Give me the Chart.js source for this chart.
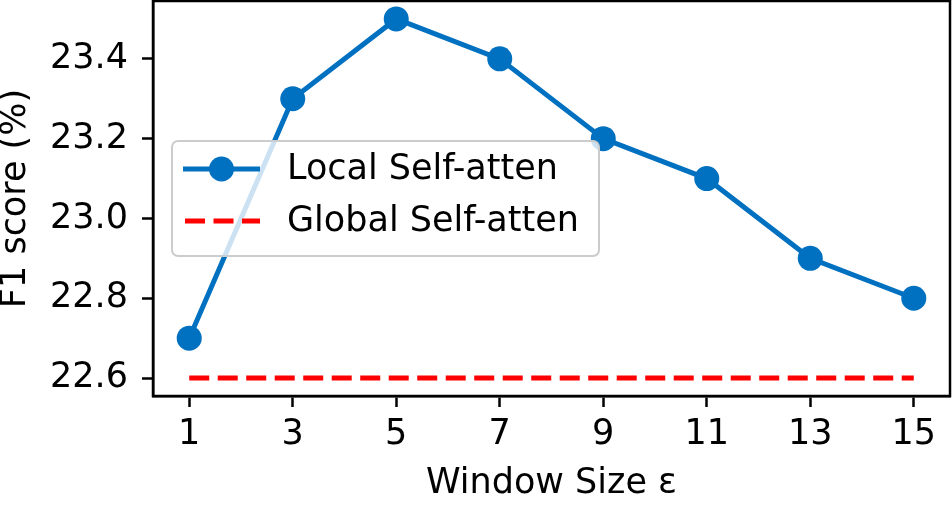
<!DOCTYPE html>
<html>
<head>
<meta charset="utf-8">
<script src="https://cdn.jsdelivr.net/npm/chart.js@4/dist/chart.umd.min.js"></script>
<style>
  html, body { margin: 0; padding: 0; background: #fff; }
  #wrap { width: 952px; height: 505px; position: relative; }
</style>
</head>
<body>
<div id="wrap"><canvas id="f1Chart" width="952" height="505"></canvas></div>
<script>
// window sizes and scores
var windowSizes = [1, 3, 5, 7, 9, 11, 13, 15];
var localScores = [22.7, 23.3, 23.5, 23.4, 23.2, 23.1, 22.9, 22.8];
var globalScore = 22.6;
var yTicks = [22.6, 22.8, 23.0, 23.2, 23.4];
var seriesNames = ['Local Self-atten', 'Global Self-atten'];

var FONT = 'DejaVu Sans';
var BLUE = '#0070C0';

var localData = windowSizes.map(function (w, i) { return { x: w, y: localScores[i] }; });
var globalData = [
    { x: windowSizes[0], y: globalScore },
    { x: windowSizes[windowSizes.length - 1], y: globalScore }
];

// top and right spines, matplotlib style box
var frame = {
    id: 'frame',
    afterDraw: function (chart) {
        var a = chart.chartArea, ctx = chart.ctx;
        ctx.save();
        ctx.strokeStyle = '#000';
        ctx.lineWidth = 2.5;
        ctx.strokeRect(a.left, a.top, a.right - a.left, a.bottom - a.top);
        ctx.restore();
    }
};

// legend drawn inside the plot, like loc='best'
var boxLegend = {
    id: 'boxLegend',
    afterDatasetsDraw: function (chart) {
        var a = chart.chartArea, ctx = chart.ctx;
        var bx = a.left + 19, by = a.top + 140, bw = 427, bh = 115, r = 6;
        ctx.save();
        ctx.beginPath();
        ctx.roundRect(bx, by, bw, bh, r);
        ctx.fillStyle = 'rgba(255,255,255,0.8)';
        ctx.fill();
        ctx.strokeStyle = '#cccccc';
        ctx.lineWidth = 2;
        ctx.stroke();

        var hx0 = bx + 11, hx1 = bx + 88;
        var rows = [by + 28, by + 80];
        chart.data.datasets.forEach(function (ds, i) {
            var y = rows[i];
            ctx.beginPath();
            ctx.setLineDash(ds.borderDash || []);
            ctx.strokeStyle = ds.borderColor;
            ctx.lineWidth = ds.borderWidth;
            ctx.moveTo(hx0 + (ds.borderDash ? 2 : 0), y);
            ctx.lineTo(hx1, y);
            ctx.stroke();
            ctx.setLineDash([]);
            if (ds.pointRadius > 0) {
                ctx.beginPath();
                ctx.arc((hx0 + hx1) / 2, y, ds.pointRadius, 0, Math.PI * 2);
                ctx.fillStyle = ds.pointBackgroundColor;
                ctx.fill();
            }
            ctx.fillStyle = '#000';
            ctx.font = '35px "' + FONT + '"';
            ctx.textBaseline = 'middle';
            ctx.textAlign = 'left';
            ctx.fillText(ds.label, bx + 115, y + 1);
        });
        ctx.restore();
    }
};

// no extra room for edge tick labels, the plot fills the canvas like the figure
function noEdgePadding(axis) {
    axis.paddingTop = 0;
    axis.paddingBottom = 0;
    axis.paddingLeft = 0;
    axis.paddingRight = 0;
}

var ctx = document.getElementById('f1Chart');

var myChart = new Chart(ctx, {
    type: 'line',
    data: {
        datasets: [{
            label: seriesNames[0],
            data: localData,
            borderColor: BLUE,
            backgroundColor: BLUE,
            pointBackgroundColor: BLUE,
            pointBorderWidth: 0,
            borderWidth: 5,
            pointRadius: 12.5,
            tension: 0,
            clip: false
        }, {
            label: seriesNames[1],
            data: globalData,
            borderColor: '#ff0000',
            borderWidth: 5,
            borderDash: [20, 8.5],
            pointRadius: 0,
            tension: 0
        }]
    },
    options: {
        responsive: false,
        animation: false,
        events: [],
        layout: { autoPadding: false, padding: { top: 1, right: 2, left: 0, bottom: 0 } },
        plugins: {
            legend: { display: false },
            tooltip: { enabled: false }
        },
        scales: {
            x: {
                type: 'linear',
                min: 0.3,
                max: 15.7,
                afterBuildTicks: function (axis) {
                    axis.ticks = windowSizes.map(function (v) { return { value: v }; });
                },
                afterFit: function (axis) { axis.height = 109; noEdgePadding(axis); },
                grid: { drawOnChartArea: false, drawTicks: true, tickLength: 11, tickWidth: 2.5, tickColor: '#000' },
                border: { display: true, color: '#000', width: 2.5 },
                ticks: {
                    color: '#000',
                    font: { family: FONT, size: 35 },
                    padding: 7,
                    maxRotation: 0,
                    autoSkip: false
                },
                title: {
                    display: true,
                    text: 'Window Size ε',
                    color: '#000',
                    font: { family: FONT, size: 35 },
                    padding: { top: 0, bottom: 0 }
                }
            },
            y: {
                type: 'linear',
                min: 22.555,
                max: 23.545,
                afterBuildTicks: function (axis) {
                    axis.ticks = yTicks.map(function (v) { return { value: v }; });
                },
                afterFit: function (axis) { axis.width = 153; noEdgePadding(axis); },
                grid: { drawOnChartArea: false, drawTicks: true, tickLength: 11, tickWidth: 2.5, tickColor: '#000' },
                border: { display: true, color: '#000', width: 2.5 },
                ticks: {
                    color: '#000',
                    font: { family: FONT, size: 35 },
                    padding: 14,
                    callback: function (v) { return Number(v).toFixed(1); }
                },
                title: {
                    display: true,
                    text: 'F1 score (%)',
                    color: '#000',
                    font: { family: FONT, size: 35, lineHeight: 0.9 },
                    padding: { top: 0, bottom: 0 }
                }
            }
        }
    },
    plugins: [frame, boxLegend]
});
</script>
</body>
</html>
